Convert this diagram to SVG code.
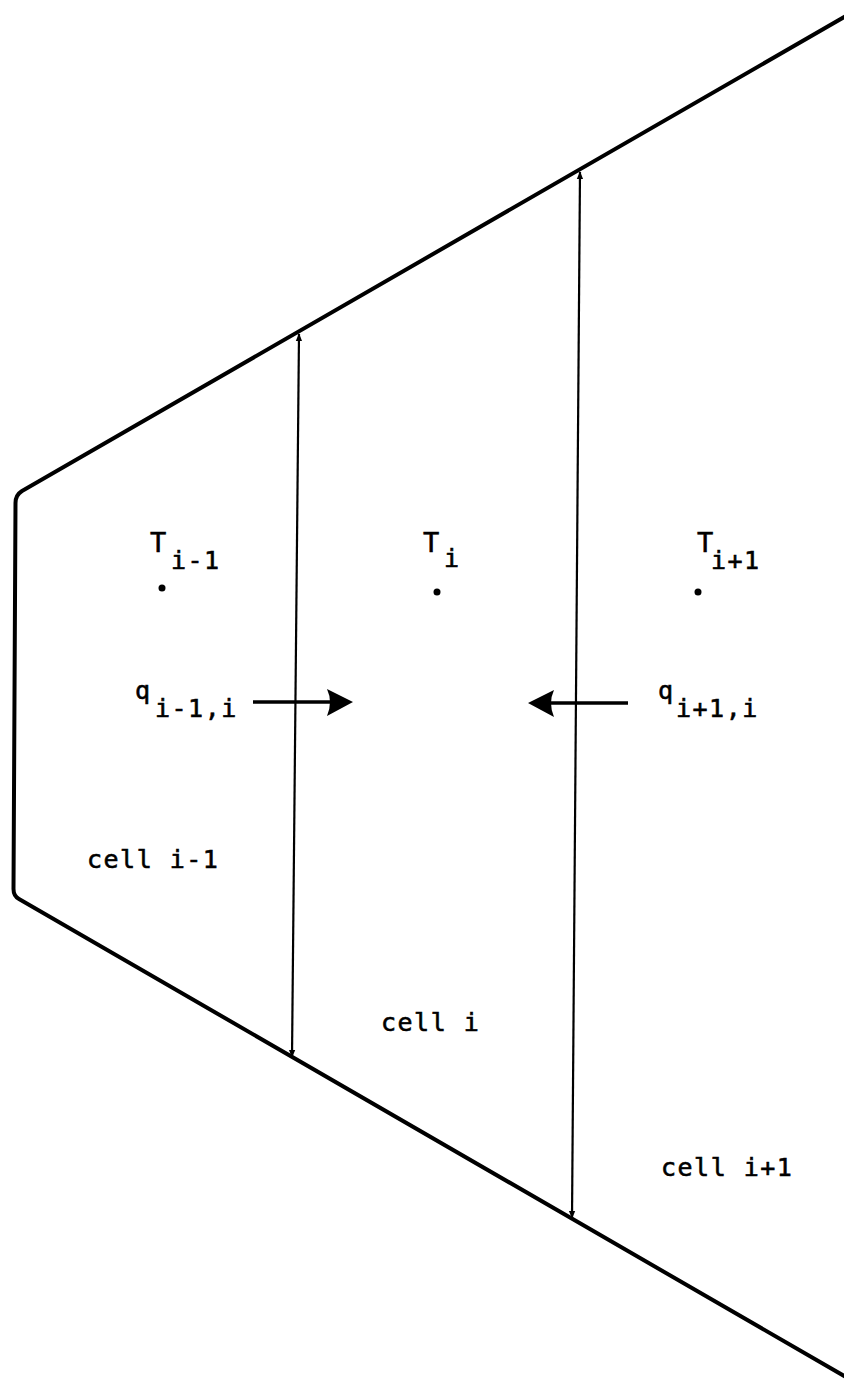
<svg xmlns="http://www.w3.org/2000/svg" width="844" height="1387" viewBox="0 0 844 1387">
<style>
text{font-family:"DejaVu Sans Mono","Liberation Mono",monospace;font-size:25px;fill:#000;stroke:#000;stroke-width:0.6;letter-spacing:1.5px}
text.cap{font-size:27px}
.outline{fill:none;stroke:#000;stroke-width:4;stroke-linejoin:round}
.wall{stroke:#000;stroke-width:2.2;fill:none;marker-start:url(#tip);marker-end:url(#tip)}
.flux{stroke:#000;stroke-width:3.5;fill:none}
</style>
<defs>
<marker id="tip" viewBox="0 0 10 10" refX="9" refY="5" markerWidth="8" markerHeight="8" markerUnits="userSpaceOnUse" orient="auto-start-reverse">
<path d="M0,1 L10,5 L0,9 Z" fill="#000"/>
</marker>
</defs>
<rect width="844" height="1387" fill="#fff"/>
<g id="outline">
<path class="outline" d="M845,16.5 L22,491 Q15.5,495 15.5,503 L13.5,889 Q13.5,896 19,899 L845,1376.5"/>
</g>
<g id="connectors">
<line class="wall" x1="299" y1="334" x2="292" y2="1057"/>
<line class="wall" x1="580" y1="172" x2="572" y2="1218"/>
<g id="flux-left">
<line class="flux" x1="253" y1="702" x2="332" y2="702"/>
<path d="M353,702 L327,689 Q333,702 327,716 Z" fill="#000"/>
</g>
<g id="flux-right">
<line class="flux" x1="628" y1="703" x2="548" y2="703"/>
<path d="M528,703 L554,690 Q548,703 554,717 Z" fill="#000"/>
</g>
</g>
<g id="cell-im1">
<text class="cap" x="150" y="552">T</text><text x="171" y="569">i-1</text>
<circle cx="162" cy="588" r="3.5"/>
<text x="135" y="699">q</text><text x="155" y="717">i-1,i</text>
<text x="87" y="868">cell i-1</text>
</g>
<g id="cell-i">
<text class="cap" x="423" y="552">T</text><text x="444" y="567">i</text>
<circle cx="437" cy="592" r="3.5"/>
<text x="381" y="1031">cell i</text>
</g>
<g id="cell-ip1">
<text class="cap" x="697" y="552">T</text><text x="711" y="569">i+1</text>
<circle cx="698" cy="592" r="3.5"/>
<text x="658" y="699">q</text><text x="676" y="717">i+1,i</text>
<text x="661" y="1176">cell i+1</text>
</g>
</svg>
